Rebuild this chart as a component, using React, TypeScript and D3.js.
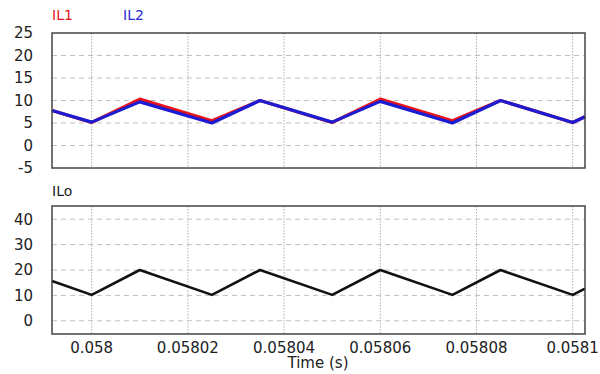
import React from 'react';
import * as d3 from 'd3';

// time samples (s) at the corners of the triangular waveforms
const times = [0.05799175, 0.058, 0.05801, 0.058025, 0.058035, 0.05805, 0.05806, 0.058075, 0.058085, 0.0581, 0.05810256];
const il1 = [7.77, 5.1, 10.3, 5.5, 10.0, 5.1, 10.3, 5.5, 10.0, 5.1, 6.4];
const il2 = [7.77, 5.2, 9.7, 5.0, 10.0, 5.2, 9.8, 5.0, 10.0, 5.1, 6.4];
const ilo = [15.7, 10.2, 20.0, 10.2, 20.0, 10.2, 20.0, 10.2, 20.0, 10.2, 12.7];

const xTicks = [0.058, 0.05802, 0.05804, 0.05806, 0.05808, 0.0581];
const xTickLabels = ['0.058', '0.05802', '0.05804', '0.05806', '0.05808', '0.0581'];
const topTicks = [-5, 0, 5, 10, 15, 20, 25];
const bottomTicks = [0, 10, 20, 30, 40];

const W = 600, H = 374;
const left = 52, right = 585;
const font = "'DejaVu Sans', sans-serif";

export default function App() {
  const x = d3.scaleLinear().domain([times[0], times[times.length - 1]]).range([left, right]);
  const yTop = d3.scaleLinear().domain([-5, 25]).range([168, 33]);
  const yBot = d3.scaleLinear().domain([-5.2, 45.2]).range([334, 206]);

  const lineTop = d3.line<number>().x((_, i) => x(times[i])).y(d => yTop(d));
  const lineBot = d3.line<number>().x((_, i) => x(times[i])).y(d => yBot(d));

  const panel = (y: d3.ScaleLinear<number, number>, ticks: number[], gridTicks: number[]) => {
    const [y1, y0] = y.range();
    return (
      <g>
        {xTicks.map(t => (
          <line key={'v' + t} x1={x(t)} x2={x(t)} y1={y0} y2={y1} stroke="#b0b0b0" strokeWidth={1} strokeDasharray="1.5,1.5" />
        ))}
        {gridTicks.map(t => (
          <line key={'h' + t} x1={left} x2={right} y1={y(t)} y2={y(t)} stroke="#c0c0c0" strokeWidth={1} strokeDasharray="5,4" />
        ))}
        {ticks.map(t => (
          <text key={'l' + t} x={33} y={y(t)} dy="0.36em" textAnchor="end" fontSize={15} fill="#222" fontFamily={font}>{t}</text>
        ))}
      </g>
    );
  };

  return (
    <svg width={W} height={H} style={{ position: 'absolute', left: 0, top: 0, background: '#fff' }}>
      {panel(yTop, topTicks, [0, 5, 10, 15, 20])}
      {panel(yBot, bottomTicks, [0, 10, 20, 30, 40])}

      <path d={lineTop(il1) || ''} fill="none" stroke="#e8141a" strokeWidth={3.2} strokeLinejoin="round" />
      <path d={lineTop(il2) || ''} fill="none" stroke="#1c1cd2" strokeWidth={3.2} strokeLinejoin="round" />
      <path d={lineBot(ilo) || ''} fill="none" stroke="#111" strokeWidth={2.6} strokeLinejoin="round" />

      <rect x={left} y={33} width={right - left} height={135} fill="none" stroke="#444" strokeWidth={1.5} />
      <rect x={left} y={206} width={right - left} height={128} fill="none" stroke="#444" strokeWidth={1.5} />

      <text x={52} y={20} fontSize={14} fill="#e8141a" fontFamily={font}>IL1</text>
      <text x={123} y={20} fontSize={14} fill="#2a2ad0" fontFamily={font}>IL2</text>
      <text x={52} y={196} fontSize={14} fill="#222" fontFamily={font}>ILo</text>

      {xTicks.map((t, i) => (
        <text key={t} x={x(t)} y={353} textAnchor="middle" fontSize={15} fill="#222" fontFamily={font}>{xTickLabels[i]}</text>
      ))}
      <text x={318} y={368} textAnchor="middle" fontSize={15} fill="#222" fontFamily={font}>Time (s)</text>
    </svg>
  );
}
